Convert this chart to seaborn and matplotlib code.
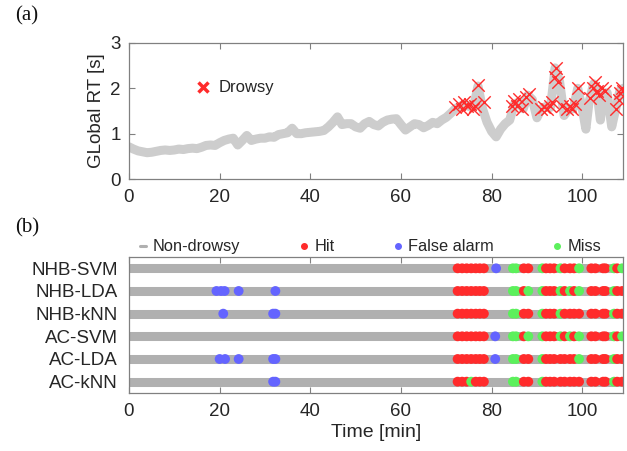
import numpy as np
import pandas as pd
import matplotlib
matplotlib.use("Agg")
import matplotlib.pyplot as plt
import seaborn as sns
from matplotlib.lines import Line2D

sns.set_theme(style="white")
plt.rcParams['font.family'] = ['Liberation Sans', 'DejaVu Sans']

# ---------------- data ----------------
rt_time = [0, 1, 2, 3, 4, 5, 6, 7, 8, 9, 10, 11, 12, 13, 14, 15, 16, 17, 18, 19,
           20, 21, 22, 23, 24, 25, 26, 27, 28, 29, 30, 31, 32, 33, 34, 35, 36, 37,
           38, 39, 40, 41, 42, 43, 44, 45, 46, 47, 48, 49, 50, 51, 52, 53, 54, 55,
           56, 57, 58, 59, 60, 61, 62, 63, 64, 65, 66, 67, 68, 69, 70, 71, 72, 73,
           74, 75, 76, 77, 78, 79, 80, 81, 82, 83, 84, 85, 86, 87, 88, 89, 90, 91,
           92, 93, 94, 95, 96, 97, 98, 99, 100, 100.8, 101.5, 102.5, 103.2, 104,
           104.7, 105.5, 106.5, 107.5, 108.3, 109]
rt_value = [0.71, 0.66, 0.62, 0.60, 0.58, 0.59, 0.61, 0.63, 0.64, 0.63, 0.64, 0.66,
            0.65, 0.67, 0.68, 0.67, 0.70, 0.74, 0.75, 0.74, 0.80, 0.85, 0.88, 0.90,
            0.75, 0.85, 0.96, 0.85, 0.88, 0.90, 0.90, 0.93, 0.92, 0.98, 1.00, 1.02,
            1.12, 1.00, 1.00, 1.02, 1.03, 1.04, 1.05, 1.07, 1.15, 1.25, 1.37, 1.20,
            1.22, 1.22, 1.15, 1.12, 1.22, 1.27, 1.20, 1.17, 1.25, 1.30, 1.32, 1.33,
            1.20, 1.08, 1.15, 1.22, 1.20, 1.13, 1.18, 1.25, 1.22, 1.30, 1.36, 1.45,
            1.55, 1.60, 1.65, 1.60, 1.58, 2.05, 1.55, 1.25, 1.05, 0.93, 1.10, 1.22,
            1.30, 1.65, 1.70, 1.55, 1.85, 1.75, 1.35, 1.55, 1.60, 1.58, 2.45, 2.15,
            1.40, 1.55, 1.55, 2.00, 1.55, 1.10, 1.70, 2.10, 1.95, 1.30, 1.90, 1.90,
            1.15, 1.60, 1.95, 2.00]

drowsy_time = [72.0, 72.8, 73.5, 74.0, 74.6, 75.2, 75.8, 76.3, 77.1, 78.4,
               84.5, 85.0, 85.6, 86.0, 86.6, 87.5, 88.3,
               91.0, 91.6, 92.2, 92.8, 93.4, 94.0, 94.3, 94.7, 95.6, 96.6, 97.2,
               97.8, 98.4, 99.0,
               101.8, 102.3, 102.8, 103.2, 103.8, 104.4, 105.1,
               107.5, 108.0, 108.4, 108.8, 109.0]
drowsy_value = [1.58, 1.65, 1.55, 1.70, 1.60, 1.65, 1.55, 1.60, 2.07, 1.70,
                1.60, 1.72, 1.62, 1.77, 1.55, 1.80, 1.88,
                1.55, 1.58, 1.55, 1.60, 1.70, 2.25, 2.45, 2.15, 1.60, 1.55, 1.60,
                1.55, 1.65, 2.00,
                1.78, 2.00, 2.15, 1.95, 1.85, 2.00, 1.95,
                1.55, 1.75, 1.90, 2.00, 1.95]

classifiers = ["NHB-SVM", "NHB-LDA", "NHB-kNN", "AC-SVM", "AC-LDA", "AC-kNN"]
session_span = [0, 109]

hit_times = {
    "NHB-SVM": [72.5, 73.5, 74.5, 75.5, 76.5, 77.4, 78.3, 87.1, 88.1, 92.0, 92.9,
                93.8, 96.1, 97.3, 98.2, 102.0, 102.9, 104.6, 105.1, 107.7],
    "NHB-LDA": [72.5, 73.5, 74.5, 75.5, 76.5, 77.4, 78.3, 87.1, 92.0, 92.9, 93.8,
                96.1, 98.2, 102.0, 102.9, 104.6, 105.1, 107.7, 108.8],
    "NHB-kNN": [72.5, 73.5, 74.5, 75.5, 76.5, 77.4, 78.3, 87.1, 88.1, 92.0, 92.9,
                93.8, 96.1, 97.3, 98.2, 99.3, 102.0, 102.9, 104.6, 105.1, 107.7, 108.8],
    "AC-SVM": [72.5, 73.5, 74.5, 75.5, 76.5, 77.4, 78.3, 87.1, 92.0, 92.9, 93.8,
               96.1, 98.2, 102.0, 102.9, 104.6, 105.1, 107.7],
    "AC-LDA": [72.5, 73.5, 74.5, 75.5, 76.5, 77.4, 78.3, 87.1, 88.1, 92.0, 92.9,
               93.8, 95.2, 96.1, 97.3, 98.2, 102.0, 102.9, 104.6, 105.1, 107.7, 108.8],
    "AC-kNN": [72.5, 73.5, 74.5, 76.5, 77.4, 78.3, 87.1, 88.1, 92.0, 92.9, 93.8,
               95.2, 96.1, 97.3, 98.2, 99.3, 102.0, 102.9, 104.6, 105.1, 107.7, 108.8],
}
false_alarm_times = {
    "NHB-SVM": [81.0],
    "NHB-LDA": [19.3, 20.3, 21.1, 24.2, 32.3],
    "NHB-kNN": [20.8, 31.8, 32.3],
    "AC-SVM": [80.8],
    "AC-LDA": [20.0, 21.2, 24.2, 31.8, 32.3, 80.8],
    "AC-kNN": [31.8, 32.3],
}
miss_times = {
    "NHB-SVM": [84.7, 85.4, 91.2, 95.2, 99.3, 107.0, 108.8],
    "NHB-LDA": [84.7, 85.4, 88.1, 91.2, 95.2, 97.3, 99.3, 107.0],
    "NHB-kNN": [84.7, 85.4, 91.2, 95.2, 107.0],
    "AC-SVM": [84.7, 85.4, 88.1, 91.2, 95.2, 97.3, 99.3, 107.0, 108.8],
    "AC-LDA": [84.7, 85.4, 91.2, 99.3, 107.0],
    "AC-kNN": [75.5, 84.7, 85.4, 91.2, 107.0],
}

# ---------------- styles ----------------
RED = "#ff2b2b"
BLUE = "#6464ff"
GREEN = "#5cf05c"
GRAY_BAR = "#b0b0b0"
GRAY_LINE = "#cdcdcd"
SPINE = "#808080"
TXT = "#262626"

fig = plt.figure(figsize=(6.27, 4.51), dpi=100)
ax1 = fig.add_axes([0.2057, 0.6031, 0.788, 0.3016])
ax2 = fig.add_axes([0.2057, 0.1286, 0.788, 0.3016])

# ---------------- panel (a) ----------------
sns.lineplot(x=rt_time, y=rt_value, ax=ax1, color=GRAY_LINE, lw=6.5,
             solid_capstyle="round", solid_joinstyle="round", sort=False,
             estimator=None)
sns.scatterplot(x=drowsy_time, y=drowsy_value, ax=ax1, marker="x", color=RED,
                s=80, linewidth=1.0, legend=False, zorder=3)
ax1.set_xlim(0, 109)
ax1.set_ylim(0, 3)
ax1.set_xticks([0, 20, 40, 60, 80, 100])
ax1.set_yticks([0, 1, 2, 3])
ax1.set_ylabel("GLobal RT [s]", fontsize=13.5, color=TXT, labelpad=4)
h_drowsy = Line2D([], [], marker="x", color=RED, ls="none", markersize=7,
                  markeredgewidth=2.5)
ax1.legend([h_drowsy], ["Drowsy"], loc="center left",
           bbox_to_anchor=(0.13, 0.67), frameon=False, fontsize=12,
           handletextpad=0.3, handlelength=1.2, borderpad=0, borderaxespad=0)

# ---------------- panel (b) ----------------
ypos = {c: i for i, c in enumerate(classifiers)}
ax2.hlines(y=[ypos[c] for c in classifiers], xmin=session_span[0],
           xmax=session_span[1], color=GRAY_BAR, lw=6.5, zorder=1)

rows = []
for c in classifiers:
    for t in hit_times[c]:
        rows.append((t, ypos[c], "Hit"))
    for t in false_alarm_times[c]:
        rows.append((t, ypos[c], "False alarm"))
    for t in miss_times[c]:
        rows.append((t, ypos[c], "Miss"))
events = pd.DataFrame(rows, columns=["time", "y", "kind"]).sort_values("time")
sns.scatterplot(data=events, x="time", y="y", hue="kind", ax=ax2,
                palette={"Hit": RED, "False alarm": BLUE, "Miss": GREEN},
                s=50, linewidth=0, legend=False, zorder=2)
ax2.set_xlim(0, 109)
ax2.set_ylim(5.5, -0.5)
ax2.set_yticks(range(len(classifiers)))
ax2.set_yticklabels(classifiers)
ax2.set_xticks([0, 20, 40, 60, 80, 100])
ax2.set_xlabel("Time [min]", fontsize=14, color=TXT, labelpad=3)
ax2.set_ylabel("")

handles = [Line2D([], [], color=GRAY_BAR, lw=2.2),
           Line2D([], [], marker="o", color=RED, ls="none", markersize=4),
           Line2D([], [], marker="o", color=BLUE, ls="none", markersize=4),
           Line2D([], [], marker="o", color=GREEN, ls="none", markersize=4)]
ax2.legend(handles, ["Non-drowsy", "Hit", "False alarm", "Miss"], ncol=4,
           loc="center left", bbox_to_anchor=(0.022, 1.075), frameon=False,
           fontsize=11.8, handlelength=0.35, handletextpad=0.45,
           columnspacing=3.7, borderpad=0, borderaxespad=0)

for ax in (ax1, ax2):
    for sp in ax.spines.values():
        sp.set_visible(True)
        sp.set_color(SPINE)
        sp.set_linewidth(0.9)
    ax.tick_params(axis="both", direction="in", colors=SPINE, labelcolor=TXT,
                   labelsize=13.5, length=4, width=0.8, top=True, right=True,
                   bottom=True, left=True, pad=7)
ax2.tick_params(axis="y", length=0, labelsize=13.5, pad=8)
ax1.tick_params(axis="y", pad=6)

fig.text(0.024, 0.965, "(a)", family=["Liberation Serif", "DejaVu Serif"],
         fontsize=15, color="#111111", va="center")
fig.text(0.024, 0.494, "(b)", family=["Liberation Serif", "DejaVu Serif"],
         fontsize=15, color="#111111", va="center")

fig.savefig("out.png", dpi=100, facecolor="white")
